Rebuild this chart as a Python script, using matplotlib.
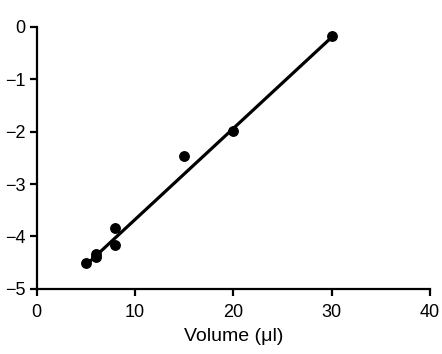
"""Volume vs. log response, scatter with linear fit."""

import matplotlib

matplotlib.use("Agg")
import matplotlib.pyplot as plt  # noqa: E402

# measured points
volume = [5, 6, 6, 8, 8, 15, 20, 30]
response = [-4.51, -4.33, -4.40, -3.84, -4.16, -2.46, -1.98, -0.18]

# fitted line end points
fit_x = [5, 30]
fit_y = [-4.55, -0.20]

x_ticks = [0, 10, 20, 30, 40]
y_ticks = [0, -1, -2, -3, -4, -5]

plt.rcParams["font.family"] = ["Liberation Sans", "DejaVu Sans"]

fig = plt.figure(figsize=(4.42, 3.54), dpi=100)
ax = fig.add_axes([0.0826, 0.184, 0.890, 0.740])

ax.plot(fit_x, fit_y, color="black", lw=2.3, solid_capstyle="butt")
ax.plot(volume, response, "o", color="black", ms=6.8, clip_on=False)

ax.set_xlim(0, 40)
ax.set_ylim(-5, 0)
ax.set_xticks(x_ticks)
ax.set_yticks(y_ticks)
ax.set_yticklabels(["0", "\u22121", "\u22122", "\u22123", "\u22124", "\u22125"])
ax.set_xlabel("Volume (\u03bcl)", fontsize=14, labelpad=5)

for side in ("top", "right"):
    ax.spines[side].set_visible(False)
for side in ("left", "bottom"):
    ax.spines[side].set_linewidth(1.6)
ax.tick_params(width=1.6, length=5, labelsize=13, direction="out")
ax.tick_params(axis="x", pad=6)
ax.tick_params(axis="y", pad=3)

fig.savefig("out.png", dpi=100)
